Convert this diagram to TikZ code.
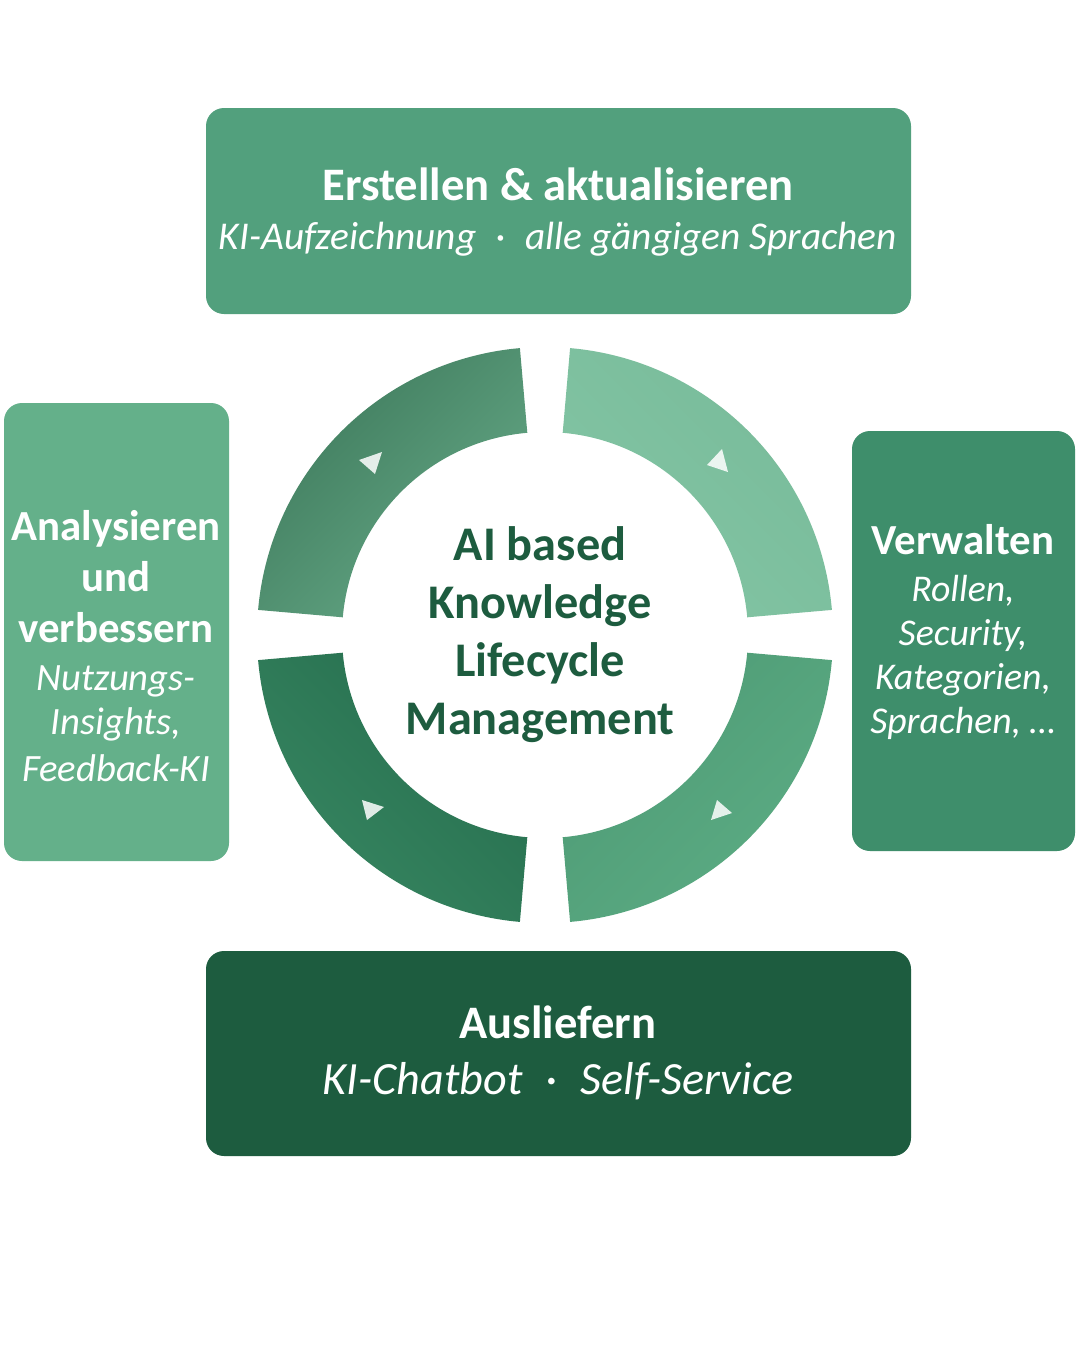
\documentclass[tikz,border=0pt]{standalone}
\usepackage{fontspec}
\setmainfont{Carlito}
\begin{document}
\begin{tikzpicture}[x=0.02cm,y=0.02cm,
  box/.style={draw=none,rounded corners=0.36cm,inner sep=0pt,outer sep=0pt},
  ttl/.style={anchor=base,text=white,font=\fontsize{#1}{#1}\selectfont\bfseries},
  sub/.style={anchor=base,text=white,font=\fontsize{#1}{#1}\selectfont\itshape},
  ctr/.style={anchor=base,text=dkgreen,font=\fontsize{27.5}{27.5}\selectfont\bfseries},
  tri/.style={fill=white,fill opacity=0.85,draw=none}]
\definecolor{topbox}{HTML}{52A07D}
\definecolor{leftbox}{HTML}{64B08A}
\definecolor{rightbox}{HTML}{3E8E6B}
\definecolor{botbox}{HTML}{1D5C3F}
\definecolor{dkgreen}{HTML}{1D5C3F}
\definecolor{tlA}{HTML}{3E7A5C}
\definecolor{tlB}{HTML}{66A987}
\definecolor{trA}{HTML}{78BB9A}
\definecolor{trB}{HTML}{83C5A4}
\definecolor{blA}{HTML}{266E4E}
\definecolor{blB}{HTML}{378661}
\definecolor{brA}{HTML}{4E9B75}
\definecolor{brB}{HTML}{5CAC84}

\fill[white] (0,0) rectangle (1080,-1350);
\useasboundingbox (0,0) rectangle (1080,-1350);

% boxes
\node[box,fill=topbox,minimum width=705*0.02cm,minimum height=206*0.02cm] (topB) at (558.5,-211) {};
\node[box,fill=leftbox,minimum width=225*0.02cm,minimum height=458*0.02cm] (leftB) at (116.5,-632) {};
\node[box,fill=rightbox,minimum width=223*0.02cm,minimum height=420*0.02cm] (rightB) at (963.5,-641) {};
\node[box,fill=botbox,minimum width=705*0.02cm,minimum height=205*0.02cm] (botB) at (558.5,-1053.5) {};

% ring segments
\begin{scope}[shift={(545,-635)}]
  \path[top color=tlA,bottom color=tlB,shading angle=45]
    (95:288) arc[start angle=95,end angle=175,radius=288] -- (175:203)
    arc[start angle=175,end angle=95,radius=203] -- cycle;
  \path[top color=trA,bottom color=trB,shading angle=-45]
    (5:288) arc[start angle=5,end angle=85,radius=288] -- (85:203)
    arc[start angle=85,end angle=5,radius=203] -- cycle;
  \path[top color=blA,bottom color=blB,shading angle=-45]
    (185:288) arc[start angle=185,end angle=265,radius=288] -- (265:203)
    arc[start angle=265,end angle=185,radius=203] -- cycle;
  \path[top color=brA,bottom color=brB,shading angle=45]
    (275:288) arc[start angle=275,end angle=355,radius=288] -- (355:203)
    arc[start angle=355,end angle=275,radius=203] -- cycle;
\end{scope}

% direction triangles
\fill[tri] (359,-460) -- (382,-452) -- (375,-474) -- cycle;
\fill[tri] (707,-465) -- (722,-449) -- (728,-472) -- cycle;
\fill[tri] (362,-800) -- (384,-807) -- (367,-820) -- cycle;
\fill[tri] (717,-800) -- (732,-813) -- (711,-820) -- cycle;

% top box text
\node[ttl=26.5] (t1) at (558,-200) {Erstellen \& aktualisieren};
\node[sub=22.4] (t2) at (558,-249) {KI-Aufzeichnung\enspace·\enspace alle gängigen Sprachen};

% left box text
\node[ttl=24.4] (l1) at (116,-540) {Analysieren};
\node[ttl=24.4] (l2) at (116,-591) {und};
\node[ttl=24.4] (l3) at (116,-642) {verbessern};
\node[sub=22] (l4) at (116,-690) {Nutzungs-};
\node[sub=22] (l5) at (116,-734) {Insights,};
\node[sub=22] (l6) at (116,-781) {Feedback-KI};

% right box text
\node[ttl=24.4] (r1) at (963,-554) {Verwalten};
\node[sub=21.5] (r2) at (963,-601) {Rollen,};
\node[sub=21.5] (r3) at (963,-645) {Security,};
\node[sub=21.5] (r4) at (963,-689) {Kategorien,};
\node[sub=21.5] (r5) at (963,-733) {Sprachen, …};

% centre text
\node[ctr] (c1) at (540,-560) {AI based};
\node[ctr] (c2) at (540,-618) {Knowledge};
\node[ctr] (c3) at (540,-676) {Lifecycle};
\node[ctr] (c4) at (540,-734) {Management};

% bottom box text
\node[ttl=26.5] (b1) at (558,-1038) {Ausliefern};
\node[sub=26.3] (b2) at (558,-1094) {KI-Chatbot\enspace·\enspace Self-Service};
\end{tikzpicture}
\end{document}
